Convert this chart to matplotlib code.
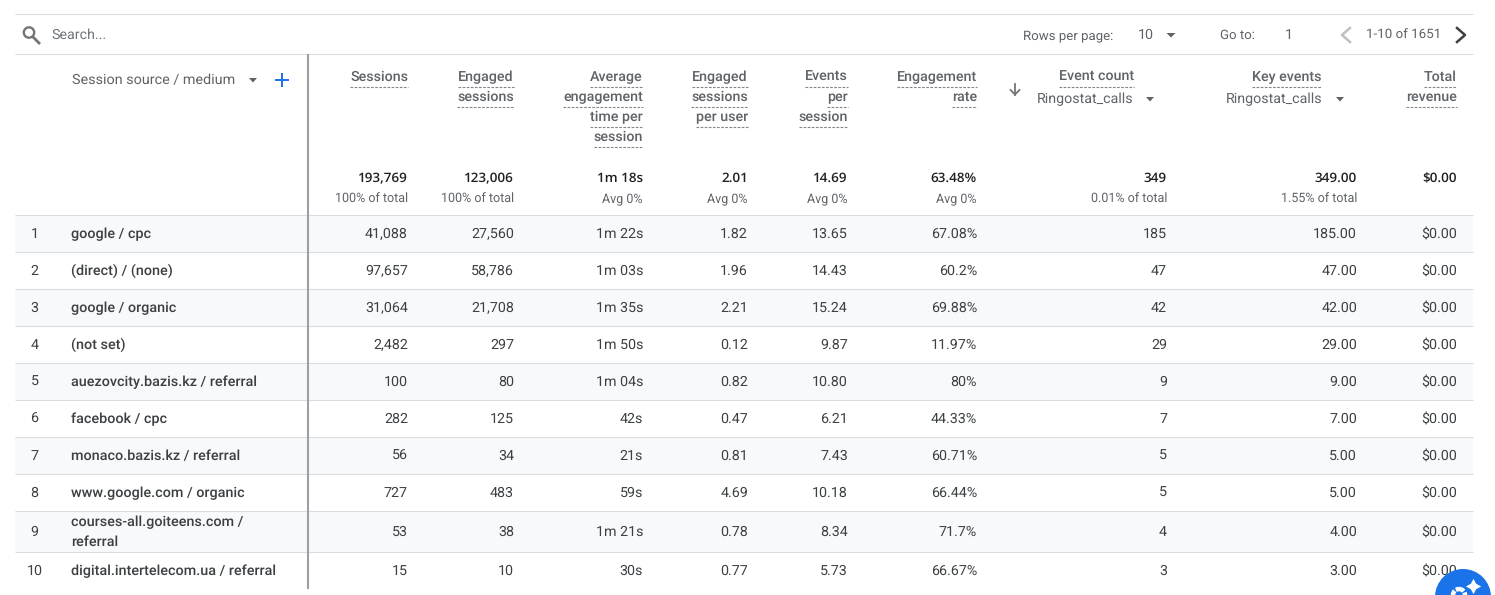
import matplotlib
matplotlib.use("Agg")
import matplotlib.pyplot as plt
from matplotlib.patches import Rectangle, Circle

plt.rcParams['font.family'] = ['Roboto', 'DejaVu Sans']
plt.rcParams['text.hinting'] = 'none'

# table content
sources = ["google / cpc", "(direct) / (none)", "google / organic", "(not set)",
           "auezovcity.bazis.kz / referral", "facebook / cpc", "monaco.bazis.kz / referral",
           "www.google.com / organic", "courses-all.goiteens.com /\nreferral",
           "digital.intertelecom.ua / referral"]
sessions = ["41,088", "97,657", "31,064", "2,482", "100", "282", "56", "727", "53", "15"]
engaged = ["27,560", "58,786", "21,708", "297", "80", "125", "34", "483", "38", "10"]
avg_time = ["1m 22s", "1m 03s", "1m 35s", "1m 50s", "1m 04s", "42s", "21s", "59s", "1m 21s", "30s"]
per_user = ["1.82", "1.96", "2.21", "0.12", "0.82", "0.47", "0.81", "4.69", "0.78", "0.77"]
per_session = ["13.65", "14.43", "15.24", "9.87", "10.80", "6.21", "7.43", "10.18", "8.34", "5.73"]
eng_rate = ["67.08%", "60.2%", "69.88%", "11.97%", "80%", "44.33%", "60.71%", "66.44%", "71.7%", "66.67%"]
event_count = ["185", "47", "42", "29", "9", "7", "5", "5", "4", "3"]
key_events = ["185.00", "47.00", "42.00", "29.00", "9.00", "7.00", "5.00", "5.00", "4.00", "3.00"]
revenue = ["$0.00"] * 10

columns = [sessions, engaged, avg_time, per_user, per_session, eng_rate, event_count, key_events, revenue]
headers = [["Sessions"], ["Engaged", "sessions"], ["Average", "engagement", "time per", "session"],
           ["Engaged", "sessions", "per user"], ["Events", "per", "session"], ["Engagement", "rate"],
           ["Event count"], ["Key events"], ["Total", "revenue"]]
totals = ["193,769", "123,006", "1m 18s", "2.01", "14.69", "63.48%", "349", "349.00", "$0.00"]
sub_totals = ["100% of total", "100% of total", "Avg 0%", "Avg 0%", "Avg 0%", "Avg 0%",
              "0.01% of total", "1.55% of total", ""]

col_right = [408, 514, 643, 748, 848, 977, 1167, 1357, 1457]
head_right = [408, 514, 643, 748, 848, 977, 1134, 1321, 1457]
row_top = [215, 252, 289, 326, 363, 400, 437, 474, 511, 552]
row_bottom = row_top[1:] + [589]

DARK = "#3c4043"
GREY = "#5f6368"
LINE = "#dadce0"
FS = 10.3

fig = plt.figure(figsize=(14.95, 5.95), dpi=100)
ax = fig.add_axes([0, 0, 1, 1])
ax.set_xlim(0, 1495)
ax.set_ylim(595, 0)
ax.axis("off")

# rows background and lines
for i in range(10):
    if i % 2 == 0:
        ax.add_patch(Rectangle((15, row_top[i]), 1458, row_bottom[i] - row_top[i], color="#f8f9fa", lw=0, zorder=0))
for y in [14, 54] + row_top:
    ax.plot([15, 1473], [y - 0.5, y - 0.5], color=LINE, lw=0.8, zorder=1, solid_capstyle="butt")
ax.plot([308, 308], [54, 589], color="#9aa0a6", lw=1.5, zorder=2, solid_capstyle="butt")

# search bar
ax.add_patch(Circle((29, 32.5), 5.2, fill=False, ec="#757575", lw=1.7))
ax.plot([33, 39], [37, 43], color="#757575", lw=2)
ax.text(51, 38.5, "Search...", fontsize=FS, color="#70757a", va="baseline")

# pagination
ax.text(1023, 39, "Rows per page:", fontsize=9.55, color=GREY, va="baseline")
ax.text(1138, 39, "10", fontsize=FS, color=GREY, va="baseline")
ax.text(1220, 39, "Go to:", fontsize=9.55, color=GREY, va="baseline")
ax.text(1285, 39, "1", fontsize=FS, color=GREY, va="baseline")
ax.text(1366, 39, "1-10 of 1651", fontsize=9.6, color=GREY, va="baseline")
ax.plot([1350, 1342, 1350], [28, 35, 42], color="#bdc1c6", lw=1.8)
ax.plot([1457, 1465, 1457], [28, 35, 42], color="#3c4043", lw=1.8)


def caret(x, y, color="#5f6368", w=4.5):
    ax.fill([x - w, x + w, x], [y - 2, y - 2, y + 2.5], color=color, lw=0)


caret(1171, 35)
caret(253, 80, w=4)
caret(1150, 99, w=4)
caret(1340, 99, w=4)

# dimension header
ax.text(72, 84, "Session source / medium", fontsize=FS + 0.1, color=GREY, va="baseline")
ax.plot([281.5, 281.5], [73.5, 85.5], color="#1a73e8", lw=1.4)
ax.plot([275.5, 287.5], [79.5, 79.5], color="#1a73e8", lw=1.4)

# metric headers with dashed underlines
fig.canvas.draw()
renderer = fig.canvas.get_renderer()
for x, lines in zip(head_right, headers):
    for k, line in enumerate(lines):
        y = 81 + k * 20
        t = ax.text(x, y, line, fontsize=FS, fontweight=500, color=GREY, ha="right", va="baseline")
        w = t.get_window_extent(renderer).width
        ax.plot([x - w, x], [y + 5.7, y + 5.7], color="#80868b", lw=0.8, dashes=(2.4, 1.3))

ax.text(1133, 103, "Ringostat_calls", fontsize=FS, color=GREY, ha="right", va="baseline")
ax.text(1322, 103, "Ringostat_calls", fontsize=FS, color=GREY, ha="right", va="baseline")

# sort arrow
ax.plot([1015, 1015], [84, 94.5], color="#757575", lw=1.3)
ax.plot([1010.5, 1015, 1019.5], [90, 94.5, 90], color="#757575", lw=1.3)

# totals
for x, total, sub in zip(col_right, totals, sub_totals):
    ax.text(x, 182, total, fontsize=9.7, fontweight=600, color="#202124", ha="right", va="baseline",
            family=["Open Sans", "DejaVu Sans"])
    ax.text(x, 203, sub, fontsize=9, color=GREY, ha="right", va="baseline")

# rows
for i in range(10):
    yc = (row_top[i] + row_bottom[i]) / 2 + 0.5
    ax.text(34.5, yc + 4, str(i + 1), fontsize=FS, color=DARK, ha="center", va="baseline")
    parts = sources[i].split("\n")
    for k, part in enumerate(parts):
        y = yc + 4 + (k - (len(parts) - 1) / 2) * 20
        ax.text(71, y, part, fontsize=FS + 0.1, fontweight=500, color=DARK, va="baseline")
    for x, col in zip(col_right, columns):
        ax.text(x, yc + 4, col[i], fontsize=FS, color=DARK, ha="right", va="baseline")

# floating button
ax.add_patch(Circle((1463, 597), 28, color="#1a73e8", lw=0, zorder=5))
ax.add_patch(Circle((1459, 595), 6, fill=False, ec="white", lw=3.2, ls=(0, (1.2, 0.35)), zorder=6))
ax.plot([1473], [586], marker=(4, 1, 0), color="white", ms=11, mew=0, zorder=6)

fig.savefig("out.png", dpi=100)
